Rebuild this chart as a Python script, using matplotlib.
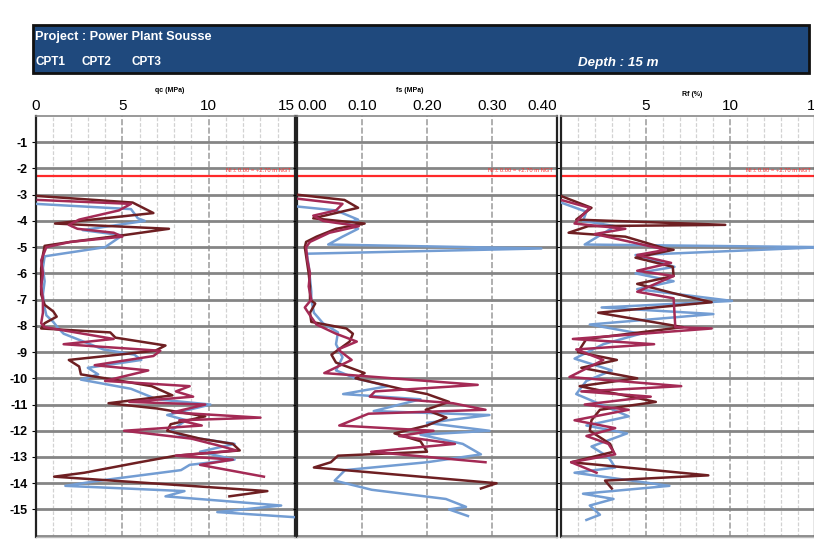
import matplotlib
matplotlib.use("Agg")
import matplotlib.pyplot as plt
from matplotlib.patches import Rectangle
import numpy as np

plt.rcParams['font.family'] = ['Liberation Sans', 'DejaVu Sans']

# ---------------- data ----------------
# qc (MPa)
cpt1_qc_depth = [3.05, 3.3, 3.7, 4.1, 4.3, 4.55, 4.8, 4.95, 5.3, 5.8, 6.3, 6.8, 7.2, 7.45, 7.65, 7.9, 8.1, 8.25, 8.45, 8.75,
                 8.95, 9.3, 9.55, 9.85, 10.05, 10.3, 10.65, 10.95, 11.15, 11.45, 11.75, 12.0, 12.3, 12.5, 12.75, 12.95,
                 13.2, 13.4, 13.6, 13.75, 14.3, 14.5]
cpt1_qc = [0.1, 5.6, 6.8, 1.1, 7.7, 5.0, 2.0, 0.5, 0.4, 0.3, 0.3, 0.3, 0.5, 1.0, 1.2, 0.5, 0.3, 4.3, 4.6, 7.5,
           6.9, 1.9, 2.5, 2.6, 4.5, 6.7, 7.9, 4.2, 7.0, 9.8, 7.8, 7.6, 9.5, 11.4, 11.8, 8.1,
           6.0, 4.4, 2.8, 1.05, 13.4, 11.2]
cpt2_qc_depth = [3.2, 3.35, 3.6, 3.95, 4.15, 4.3, 4.45, 4.6, 4.8, 5.0, 5.5, 6.0, 6.5, 7.0, 7.5, 7.9, 8.05, 8.5, 8.7, 8.95,
                 9.15, 9.5, 9.7, 10.1, 10.3, 10.5, 10.7, 10.9, 11.0, 11.3, 11.5, 11.6, 11.8, 12.0, 12.3, 12.55, 12.75,
                 12.95, 13.1, 13.3, 13.75]
cpt2_qc = [0.1, 5.5, 4.8, 2.5, 1.9, 2.4, 4.5, 5.0, 2.0, 0.6, 0.3, 0.4, 0.3, 0.4, 0.4, 0.3, 0.5, 4.5, 1.6, 7.2,
           6.8, 3.4, 6.5, 4.0, 8.9, 8.1, 9.1, 5.4, 9.8, 7.9, 13.0, 8.3, 9.6, 5.1, 9.0, 10.5, 11.6,
           8.1, 11.4, 9.5, 13.2]
cpt3_qc_depth = [3.35, 3.55, 3.9, 4.0, 4.35, 4.55, 5.0, 5.35, 5.8, 6.3, 6.8, 7.3, 7.6, 7.85, 8.1, 8.3, 8.9, 9.1, 9.3, 9.6,
                 9.85, 10.05, 10.4, 10.8, 11.0, 11.4, 11.6, 12.0, 12.2, 12.5, 12.8, 13.1, 13.3, 13.5, 13.9, 14.1, 14.3,
                 14.5, 14.85, 15.1, 15.3]
cpt3_qc = [0.0, 5.5, 5.9, 6.3, 2.7, 5.0, 4.0, 0.5, 0.4, 0.5, 0.4, 0.5, 0.6, 1.0, 1.3, 1.6, 3.9, 5.7, 6.1, 3.0,
           3.6, 2.6, 5.5, 7.0, 10.1, 7.6, 8.7, 7.8, 8.5, 11.5, 9.5, 11.5, 8.9, 8.4, 3.7, 1.7, 8.6,
           7.5, 14.2, 10.5, 15.1]

# fs (MPa)
cpt1_fs_depth = [3.0, 3.2, 3.5, 3.9, 4.1, 4.3, 4.6, 4.8, 5.0, 5.5, 6.0, 6.5, 7.0, 7.15, 7.5, 7.85, 8.1, 8.3, 8.6, 9.1,
                 9.4, 9.8, 10.0, 10.4, 10.6, 10.9, 11.2, 11.5, 11.8, 12.1, 12.4, 12.8, 12.95, 13.2, 13.4, 14.0, 14.2]
cpt1_fs = [0.0, 0.073, 0.094, 0.025, 0.104, 0.06, 0.03, 0.014, 0.012, 0.015, 0.018, 0.02, 0.02, 0.028, 0.02, 0.022,
           0.076, 0.086, 0.081, 0.053, 0.06, 0.104, 0.09, 0.159, 0.2, 0.234, 0.198, 0.23, 0.2, 0.15, 0.19, 0.2,
           0.063, 0.052, 0.026, 0.307, 0.283]
cpt2_fs_depth = [3.15, 3.35, 3.6, 3.8, 4.0, 4.2, 4.45, 4.8, 5.0, 5.5, 6.0, 6.5, 7.0, 7.3, 7.6, 7.95, 8.3, 8.6, 8.9, 9.3,
                 9.8, 10.25, 10.5, 10.7, 10.95, 11.2, 11.35, 11.8, 12.0, 12.2, 12.5, 12.8, 13.2]
cpt2_fs = [0.0, 0.07, 0.06, 0.025, 0.04, 0.095, 0.05, 0.02, 0.014, 0.016, 0.02, 0.018, 0.022, 0.012, 0.02, 0.03,
           0.06, 0.092, 0.063, 0.084, 0.042, 0.278, 0.12, 0.112, 0.24, 0.29, 0.11, 0.065, 0.21, 0.157, 0.243,
           0.114, 0.29]
cpt3_fs_depth = [3.45, 3.6, 3.95, 4.1, 4.3, 4.6, 4.9, 5.05, 5.25, 5.7, 6.2, 6.7, 7.0, 7.5, 7.9, 8.25, 8.7, 9.2, 9.7,
                 10.0, 10.3, 10.6, 10.8, 11.25, 11.4, 11.7, 12.0, 12.15, 12.5, 12.9, 13.2, 13.5, 13.9, 14.25, 14.6,
                 14.9, 15.0, 15.25]
cpt3_fs = [0.0, 0.06, 0.094, 0.075, 0.094, 0.07, 0.048, 0.376, 0.015, 0.018, 0.02, 0.022, 0.022, 0.026, 0.04, 0.063,
           0.06, 0.07, 0.06, 0.09, 0.14, 0.071, 0.19, 0.118, 0.296, 0.2, 0.296, 0.19, 0.255, 0.283, 0.2, 0.074,
           0.058, 0.115, 0.229, 0.26, 0.234, 0.263]

# Rf (%)
cpt1_rf_depth = [3.05, 3.5, 3.95, 4.15, 4.2, 4.45, 4.6, 5.05, 5.1, 5.4, 5.75, 6.1, 6.4, 6.75, 7.1, 7.5, 8.05, 8.5,
                 9.0, 9.3, 9.6, 10.0, 10.3, 10.9, 11.2, 11.6, 12.0, 12.5, 12.8, 13.2, 13.7, 13.9, 14.2]
cpt1_rf = [0.0, 1.8, 0.9, 9.7, 1.6, 0.45, 3.8, 6.15, 6.65, 4.4, 6.6, 6.65, 4.5, 6.6, 8.9, 2.2, 7.2, 1.5,
           1.0, 3.3, 1.2, 4.5, 1.1, 5.6, 2.3, 1.8, 1.7, 2.9, 3.1, 0.6, 8.7, 2.6, 3.0]
cpt2_rf_depth = [3.2, 3.5, 4.1, 4.3, 4.5, 5.1, 5.3, 5.6, 5.9, 6.1, 6.7, 6.95, 8.05, 8.1, 8.5, 8.7, 8.9, 9.3, 9.95,
                 10.3, 10.5, 10.7, 11.0, 11.2, 11.6, 11.9, 12.2, 12.5, 12.9, 13.2, 13.6]
cpt2_rf = [0.0, 1.7, 0.8, 3.8, 2.0, 6.2, 4.5, 6.5, 4.5, 6.65, 4.5, 6.65, 6.75, 8.9, 0.7, 5.5, 0.9, 2.5, 0.5,
           7.1, 1.2, 5.3, 1.4, 4.0, 0.8, 3.2, 1.5, 2.8, 3.2, 0.6, 2.1]
cpt3_rf_depth = [3.3, 3.65, 4.0, 4.2, 4.9, 5.0, 5.3, 5.75, 6.0, 6.3, 6.6, 7.05, 7.3, 7.55, 7.95, 8.3, 8.7, 9.25,
                 9.7, 10.1, 10.6, 11.45, 11.8, 12.1, 12.6, 13.0, 13.4, 13.6, 14.1, 14.4, 14.6, 14.85, 15.2, 15.4]
cpt3_rf = [0.0, 1.5, 1.3, 3.2, 1.4, 15.5, 4.4, 6.7, 4.4, 6.65, 4.5, 10.1, 2.4, 9.0, 1.7, 4.7, 2.5, 0.8,
           3.0, 1.5, 0.9, 4.0, 1.5, 3.9, 1.8, 2.8, 3.2, 0.8, 6.4, 1.3, 3.1, 1.7, 2.3, 1.5]

water_level = 2.3
depth_ticks = list(range(1, 16))
qc_ticks = [0, 5, 10, 15]
fs_ticks = [0.0, 0.1, 0.2, 0.3, 0.4]
rf_ticks = [0, 5, 10, 15]
cpt_names = ['CPT1', 'CPT2', 'CPT3']

# ---------------- figure ----------------
W, H = 814, 540
fig = plt.figure(figsize=(W / 100, H / 100), dpi=100)
fig.patch.set_facecolor('white')

def fx(px):
    return px / W

def fy(py):
    return 1 - py / H

# header
fig.patches.append(Rectangle((fx(33), fy(73)), fx(809) - fx(33), fy(25) - fy(73),
                             transform=fig.transFigure, facecolor='#1F497D',
                             edgecolor='#111111', linewidth=2.0, zorder=0))
fig.text(fx(35), fy(37), 'Project : Power Plant Sousse', color='white', fontsize=9.2,
         fontweight='bold', ha='left', va='center')
for name, xp in zip(cpt_names, [35, 82, 131]):
    fig.text(fx(xp), fy(62), name, color='white', fontsize=8.5,
             fontweight='bold', ha='left', va='center')
fig.text(fx(578), fy(63), 'Depth : 15 m', color='white', fontsize=9.6,
         fontweight='bold', style='italic', ha='left', va='center')

COL_BROWN = '#6E1F22'
COL_CRIM = '#A42A55'
COL_BLUE = '#739DD3'

top_px, bot_px = 116, 537
panels = [
    dict(l=36, r=295, xlim=(0, 15), major=[5, 10], minor=np.arange(1, 15), ticks=qc_ticks,
         labels=['0', '5', '10', '15'], title='qc (MPa)', tx=170, ty=90,
         series=[(cpt3_qc, cpt3_qc_depth, COL_BLUE), (cpt1_qc, cpt1_qc_depth, COL_BROWN),
                 (cpt2_qc, cpt2_qc_depth, COL_CRIM)]),
    dict(l=297, r=557, xlim=(0, 0.4), major=[0.1, 0.2, 0.3], minor=[], ticks=fs_ticks,
         labels=['0.00', '0.10', '0.20', '0.30', '0.40'], title='fs (MPa)', tx=410, ty=90,
         series=[(cpt3_fs, cpt3_fs_depth, COL_BLUE), (cpt1_fs, cpt1_fs_depth, COL_BROWN),
                 (cpt2_fs, cpt2_fs_depth, COL_CRIM)]),
    dict(l=561, r=815, xlim=(0, 15), major=[5, 10], minor=np.arange(1, 15), ticks=rf_ticks,
         labels=['', '5', '10', '15'], title='Rf (%)', tx=692, ty=95,
         series=[(cpt3_rf, cpt3_rf_depth, COL_BLUE), (cpt1_rf, cpt1_rf_depth, COL_BROWN),
                 (cpt2_rf, cpt2_rf_depth, COL_CRIM)]),
]

for i, p in enumerate(panels):
    ax = fig.add_axes([fx(p['l']), fy(bot_px), fx(p['r']) - fx(p['l']), fy(top_px) - fy(bot_px)])
    ax.set_xlim(*p['xlim'])
    ax.set_ylim(-16.05, 0)
    for m in p['minor']:
        if m not in p['major']:
            ax.axvline(m, color='#d2d2d2', lw=0.9, ls=(0, (3, 1.5)), zorder=1)
    for m in p['major']:
        ax.axvline(m, color='#9a9a9a', lw=1.1, ls=(0, (4, 1.5)), zorder=1)
    for d in range(1, 17):
        ax.axhline(-d, color='#858585', lw=2.0, zorder=1.5)
    ax.axhline(-water_level, color='#FF2A2A', lw=1.6, zorder=2)
    ax.text(p['xlim'][1] * 0.985, -water_level + 0.12, 'Nl ± 0.00 = +2.70 m NGT', color='#FF3030',
            fontsize=4.2, ha='right', va='bottom', zorder=3)
    for vals, dep, col in p['series']:
        ax.plot(vals, -np.asarray(dep), color=col, lw=1.8, zorder=4, solid_joinstyle='round')
    ax.xaxis.tick_top()
    ax.set_xticks(p['ticks'])
    ax.set_xticklabels(p['labels'], fontsize=11)
    ax.tick_params(axis='x', length=0, pad=2)
    tl = ax.get_xticklabels()
    if i == 0:
        tl[-1].set_ha('right')
    if i == 1:
        tl[0].set_ha('left')
        tl[-1].set_ha('right')
    ax.set_yticks([-d for d in depth_ticks])
    if i == 0:
        ax.set_yticklabels(['-%d' % d for d in depth_ticks], fontsize=9, fontweight='bold')
    else:
        ax.set_yticklabels([])
    ax.tick_params(axis='y', length=3, pad=3)
    for side in ['left', 'right']:
        ax.spines[side].set_color('#222222')
        ax.spines[side].set_linewidth(1.6)
    ax.spines['top'].set_color('#888888')
    ax.spines['top'].set_linewidth(1.2)
    ax.spines['bottom'].set_color('#bbbbbb')
    ax.spines['bottom'].set_linewidth(1.0)
    fig.text(fx(p['tx']), fy(p['ty']), p['title'], fontsize=5, ha='center', va='center', fontweight='bold')

fig.savefig('out.png', dpi=100, facecolor='white')
